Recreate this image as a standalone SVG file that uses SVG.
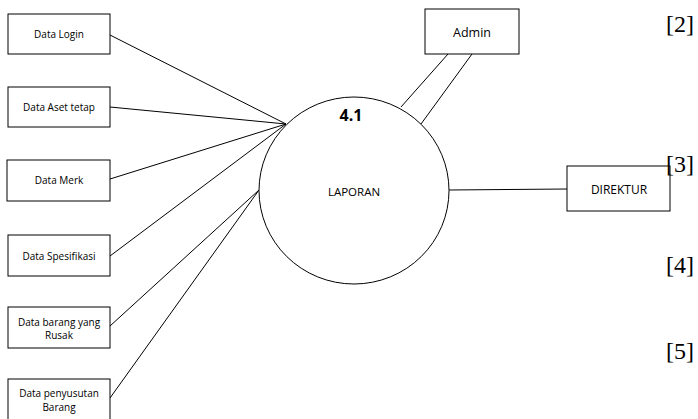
<svg xmlns="http://www.w3.org/2000/svg" width="698" height="419" viewBox="0 0 698 419">
  <style>
    .box { fill: #ffffff; stroke: #000000; stroke-width: 1; }
    .flow { stroke: #000000; stroke-width: 1; fill: none; }
    .lbl { font-family: "Open Sans", "Noto Sans", sans-serif; font-size: 10px; fill: #000000; text-anchor: middle; dominant-baseline: central; }
    .ref { font-family: "Liberation Serif", "Times New Roman", serif; font-size: 24px; fill: #000000; }
  </style>
  <rect width="698" height="419" fill="#ffffff"/>

  <!-- data flows -->
  <g id="connectors">
    <line class="flow" x1="110" y1="35" x2="286" y2="124"/>
    <line class="flow" x1="110" y1="107" x2="286" y2="124"/>
    <line class="flow" x1="110" y1="179" x2="286" y2="124"/>
    <line class="flow" x1="110" y1="256" x2="286" y2="124"/>
    <line class="flow" x1="110" y1="326" x2="259" y2="190"/>
    <line class="flow" x1="110" y1="398" x2="259" y2="190"/>
    <line class="flow" x1="448" y1="54" x2="401" y2="107"/>
    <line class="flow" x1="472" y1="54" x2="421" y2="124"/>
    <line class="flow" x1="449" y1="190" x2="567" y2="189"/>
  </g>

  <!-- process -->
  <g id="proc-4-1">
    <ellipse class="box" cx="354" cy="190.5" rx="95" ry="93.5"/>
    <text x="351" y="115" class="lbl" style="font-size:16px;font-weight:bold">4.1</text>
    <text x="354" y="191" class="lbl" style="font-size:11.5px">LAPORAN</text>
  </g>

  <!-- external entities -->
  <g id="data-login">
    <rect class="box" x="8" y="14" width="102" height="40"/>
    <text x="59" y="34" class="lbl">Data Login</text>
  </g>
  <g id="data-aset-tetap">
    <rect class="box" x="8" y="87" width="102" height="40"/>
    <text x="59" y="107" class="lbl">Data Aset tetap</text>
  </g>
  <g id="data-merk">
    <rect class="box" x="7" y="160" width="103" height="41"/>
    <text x="59" y="180" class="lbl">Data Merk</text>
  </g>
  <g id="data-spesifikasi">
    <rect class="box" x="8" y="235" width="102" height="41"/>
    <text x="59" y="256" class="lbl">Data Spesifikasi</text>
  </g>
  <g id="data-barang-rusak">
    <rect class="box" x="8" y="307" width="102" height="41"/>
    <text x="59" y="322" class="lbl">Data barang yang</text>
    <text x="59" y="335" class="lbl">Rusak</text>
  </g>
  <g id="data-penyusutan">
    <rect class="box" x="8" y="379" width="102" height="42"/>
    <text x="59" y="393" class="lbl">Data penyusutan</text>
    <text x="59" y="407" class="lbl">Barang</text>
  </g>
  <g id="admin">
    <rect class="box" x="425" y="9" width="94" height="45"/>
    <text x="472" y="32" class="lbl" style="font-size:12.5px">Admin</text>
  </g>
  <g id="direktur">
    <rect class="box" x="567" y="166" width="103" height="45"/>
    <text x="619" y="189" class="lbl" style="font-size:12px">DIREKTUR</text>
  </g>

  <!-- reference markers -->
  <g id="refs">
    <text x="666" y="32" class="ref">[2]</text>
    <text x="666" y="172" class="ref">[3]</text>
    <text x="666" y="273" class="ref">[4]</text>
    <text x="666" y="359" class="ref">[5]</text>
  </g>
</svg>
